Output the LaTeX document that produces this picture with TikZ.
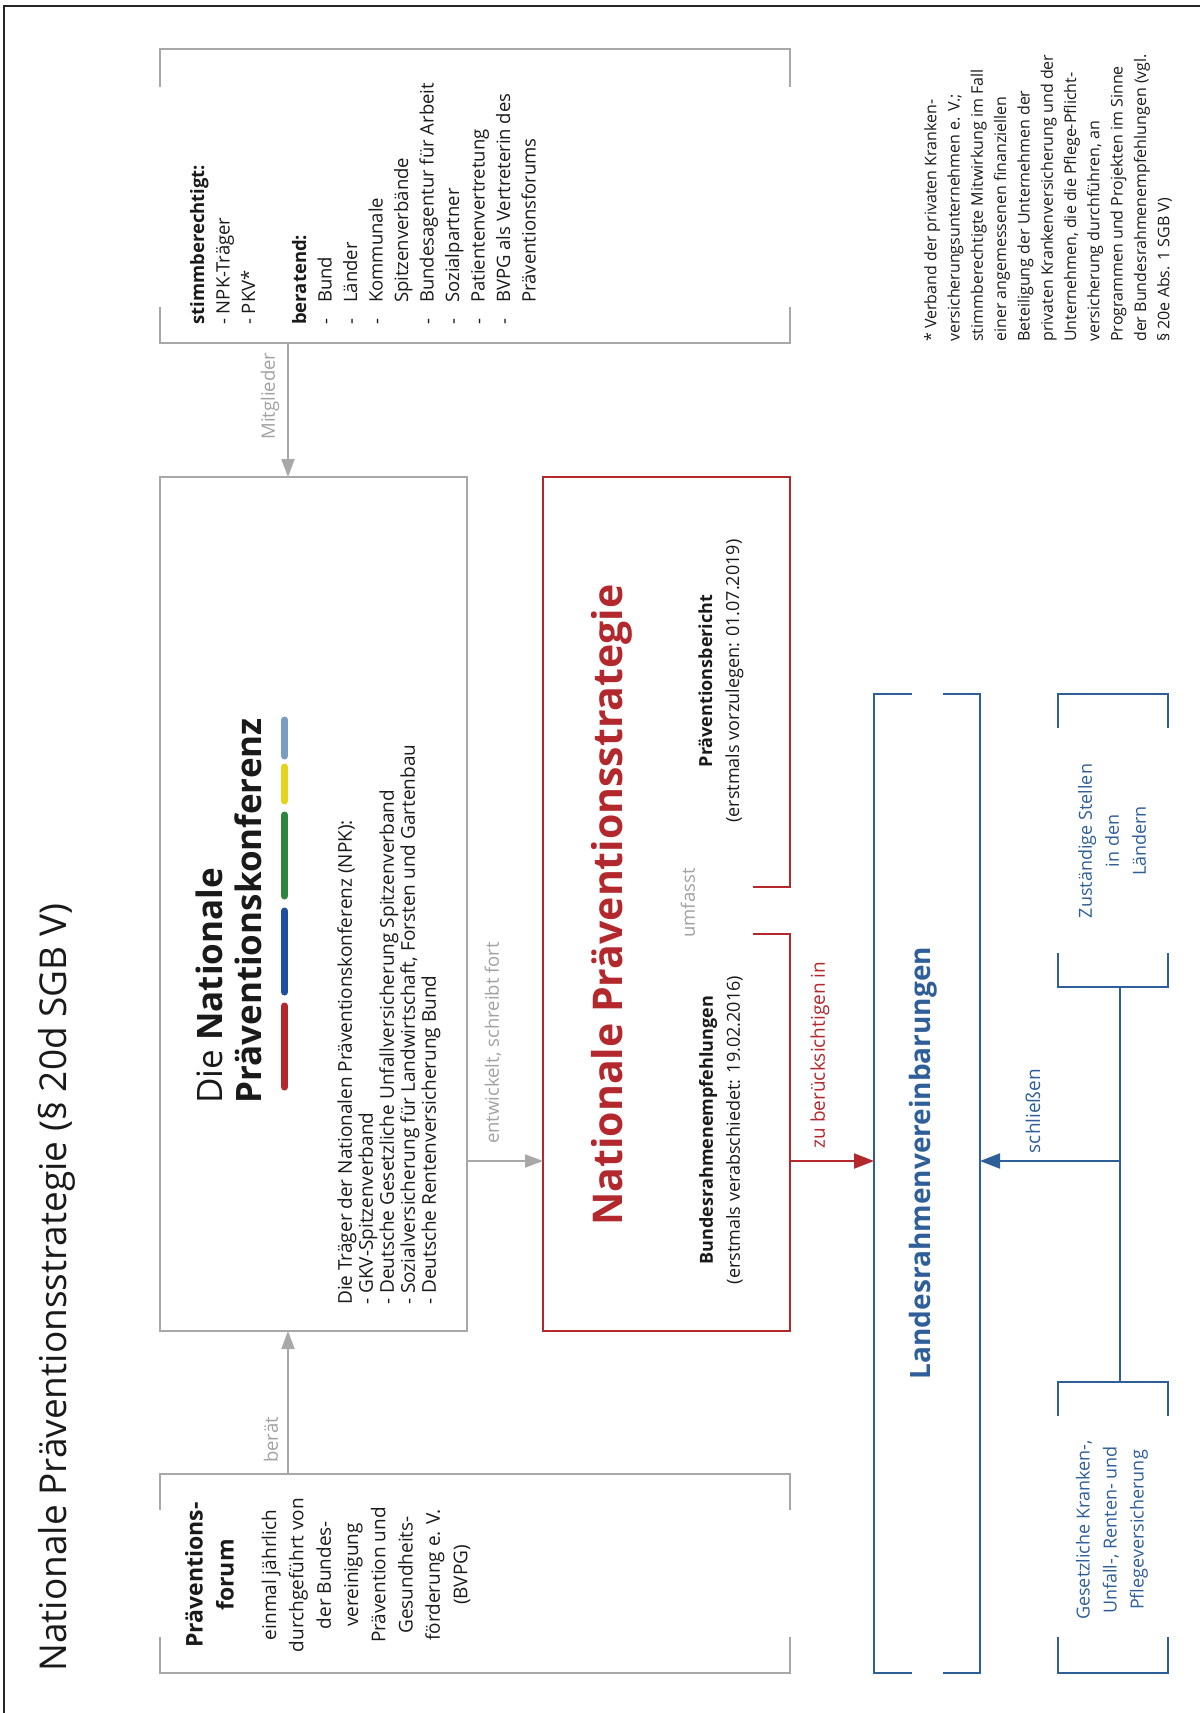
\documentclass[tikz,border=0pt]{standalone}
\usepackage{fontspec}
\setmainfont{Open Sans}
\usetikzlibrary{arrows.meta}
\definecolor{grayline}{HTML}{A8A8A8}
\definecolor{graytext}{HTML}{A2A2A2}
\definecolor{npsred}{HTML}{B3282D}
\definecolor{lrblue}{HTML}{2F5F98}
\definecolor{txt}{HTML}{1A1A1A}
\definecolor{barred}{HTML}{B3282D}
\definecolor{barblue}{HTML}{1E4FA0}
\definecolor{bargreen}{HTML}{2E8540}
\definecolor{baryellow}{HTML}{E6D31E}
\definecolor{barlight}{HTML}{7B9DC2}
\newcommand\fs[2]{\fontsize{#1}{#2}\selectfont}
\begin{document}
\begin{tikzpicture}[x=1pt,y=-1pt,
  rtext/.style={rotate=90, inner sep=0pt, text=txt},
  frame/.style={inner sep=0pt, outer sep=0pt, anchor=north west},
  graybox/.style={draw=grayline, line width=2pt},
  redbox/.style={draw=npsred, line width=2pt},
  bluebox/.style={draw=lrblue, line width=2.2pt},
  garrow/.style={draw=grayline, line width=2pt, -{Triangle[width=13pt,length=18pt]}, fill=grayline},
  rarrow/.style={draw=npsred, line width=2pt, -{Triangle[width=15pt,length=20pt]}},
  barrow/.style={draw=lrblue, line width=2pt, -{Triangle[width=15pt,length=20pt]}},
  glabel/.style={rtext, text=graytext, font=\fs{18.5}{22}},
  bar/.style={line width=7pt, line cap=round}
]
\useasboundingbox (0,0) rectangle (1200,1713);
\fill[white] (0,0) rectangle (1200,1713);
% outer frame (left and top)
\draw[line width=1.5pt, black!85] (4,1713) -- (4,6) -- (1200,6);

% title
\node[rtext, anchor=west, font=\fs{37}{44}] (title) at (57,1672) {Nationale Präventionsstrategie (§ 20d SGB V)};

% box frames (invisible nodes)
\node[frame, minimum width=630pt, minimum height=294pt] (top) at (160,49) {};
\node[frame, minimum width=307pt, minimum height=854pt] (npk) at (160,477) {};
\node[frame, minimum width=630pt, minimum height=199pt] (pf) at (160,1474) {};
\node[frame, minimum width=247pt, minimum height=854pt] (nps) at (543,477) {};
\node[frame, minimum width=106pt, minimum height=979pt] (lrv) at (874,694) {};
\node[frame, minimum width=110pt, minimum height=293pt] (zst) at (1058,694) {};
\node[frame, minimum width=110pt, minimum height=291pt] (gkv) at (1058,1382) {};

% top box brackets
\draw[graybox] ([yshift=-38pt]top.north west) -- (top.north west) -- (top.north east) -- ([yshift=-38pt]top.north east);
\draw[graybox] ([yshift=36pt]top.south west) -- (top.south west) -- (top.south east) -- ([yshift=36pt]top.south east);
% NPK box
\draw[graybox] (npk.north west) rectangle (npk.south east);
% Praeventionsforum brackets
\draw[graybox] ([yshift=-36pt]pf.north west) -- (pf.north west) -- (pf.north east) -- ([yshift=-36pt]pf.north east);
\draw[graybox] ([yshift=36pt]pf.south west) -- (pf.south west) -- (pf.south east) -- ([yshift=36pt]pf.south east);
% NPS red box with gap on the right
\draw[redbox] ([yshift=-410pt,xshift=-37pt]nps.north east) -- ([yshift=-410pt]nps.north east) -- (nps.north east) -- (nps.north west) -- (nps.south west) -- (nps.south east) -- ([yshift=397pt]nps.south east) -- ([yshift=397pt,xshift=-37pt]nps.south east);
% Landesrahmen bracket
\draw[bluebox] ([xshift=38pt]lrv.north west) -- (lrv.north west) -- (lrv.south west) -- ([xshift=38pt]lrv.south west);
\draw[bluebox] ([xshift=-37pt]lrv.north east) -- (lrv.north east) -- (lrv.south east) -- ([xshift=-37pt]lrv.south east);
% Zustaendige brackets
\draw[bluebox] ([yshift=-34pt]zst.north west) -- (zst.north west) -- (zst.north east) -- ([yshift=-34pt]zst.north east);
\draw[bluebox] ([yshift=34pt]zst.south west) -- (zst.south west) -- (zst.south east) -- ([yshift=34pt]zst.south east);
% Gesetzliche brackets
\draw[bluebox] ([yshift=-34pt]gkv.north west) -- (gkv.north west) -- (gkv.north east) -- ([yshift=-34pt]gkv.north east);
\draw[bluebox] ([yshift=36pt]gkv.south west) -- (gkv.south west) -- (gkv.south east) -- ([yshift=36pt]gkv.south east);

% connectors
\coordinate (ax) at (288,0);
\coordinate (ay) at (0,1161);
\coordinate (bx) at (1120,0);
\draw[garrow] (top.south -| ax) -- (npk.north -| ax);
\draw[garrow] (pf.north -| ax) -- (npk.south -| ax);
\draw[garrow] (npk.east |- ay) -- (nps.west |- ay);
\draw[rarrow] (nps.east |- ay) -- (lrv.west |- ay);
\draw[bluebox] (zst.south -| bx) -- (gkv.north -| bx);
\draw[barrow] (bx |- ay) -- (lrv.east |- ay);

% connector labels
\node[glabel] (lmit) at (270,396) {Mitglieder};
\node[glabel] (lber) at (271,1440) {berät};
\node[glabel] (lent) at (493,1043) {entwickelt, schreibt fort};
\node[glabel] (lumf) at (688,903) {umfasst};
\node[rtext, text=npsred, font=\fs{19}{22}] (lzub) at (820,1055) {zu berücksichtigen in};
\node[rtext, text=lrblue, font=\fs{19}{22}] (lsch) at (1033,1111) {schließen};

% top box text
\node[rtext, anchor=west, align=left, font=\fs{18.5}{25.5}] (toptext) at (363,325) {\textbf{stimmberechtigt:}\\
- NPK-Träger\\
- PKV*\\[25.5pt]
\textbf{beratend:}\\
\makebox[22pt][l]{-}Bund\\
\makebox[22pt][l]{-}Länder\\
\makebox[22pt][l]{-}Kommunale\\
\makebox[22pt][l]{}Spitzenverbände\\
\makebox[22pt][l]{-}Bundesagentur für Arbeit\\
\makebox[22pt][l]{-}Sozialpartner\\
\makebox[22pt][l]{-}Patientenvertretung\\
\makebox[22pt][l]{-}BVPG als Vertreterin des\\
\makebox[22pt][l]{}Präventionsforums};

% footnote
\node[rtext, anchor=west, align=left, font=\fs{16}{23.3}] (foot) at (1048,342) {* Verband der privaten Kranken-\\
versicherungsunternehmen e. V.;\\
stimmberechtigte Mitwirkung im Fall\\
einer angemessenen finanziellen\\
Beteiligung der Unternehmen der\\
privaten Krankenversicherung und der\\
Unternehmen, die die Pflege-Pflicht-\\
versicherung durchführen, an\\
Programmen und Projekten im Sinne\\
der Bundesrahmenempfehlungen (vgl.\\
§ 20e Abs. 1 SGB V)};

% NPK content
\node[rtext, anchor=west, align=left, font=\fs{35}{39}] (npktitle) at (228.5,1104) {Die \textbf{Nationale}\\\textbf{Präventionskonferenz}};
\draw[bar, barred] (284.5,1006) -- (284.5,1087);
\draw[bar, barblue] (284.5,911) -- (284.5,992);
\draw[bar, bargreen] (284.5,815) -- (284.5,896);
\draw[bar, baryellow] (284.5,767) -- (284.5,801);
\draw[bar, barlight] (284.5,720) -- (284.5,756);
\node[rtext, anchor=west, align=left, font=\fs{19}{21}] (npkbody) at (389,1305) {Die Träger der Nationalen Präventionskonferenz (NPK):\\
- GKV-Spitzenverband\\
- Deutsche Gesetzliche Unfallversicherung Spitzenverband\\
- Sozialversicherung für Landwirtschaft, Forsten und Gartenbau\\
- Deutsche Rentenversicherung Bund};

% NPS content
\node[rtext, text=npsred, font=\bfseries\fs{41}{46}] (npstitle) at (612,905) {Nationale Präventionsstrategie};
\node[rtext, align=center, font=\fs{18}{27}] (bre) at (721,1130) {\textbf{Bundesrahmenempfehlungen}\\(erstmals verabschiedet: 19.02.2016)};
\node[rtext, align=center, font=\fs{18}{27}] (pb) at (721,681) {\textbf{Präventionsbericht}\\(erstmals vorzulegen: 01.07.2019)};

% Landesrahmen
\node[rtext, text=lrblue, font=\bfseries\fs{28}{32}] (lrvtext) at (923,1163) {Landesrahmenvereinbarungen};
\node[rtext, text=lrblue, align=center, font=\fs{18}{27}] (zsttext) at (1112,841) {Zuständige Stellen\\in den\\Ländern};
\node[rtext, text=lrblue, align=center, font=\fs{18}{27}] (gkvtext) at (1112,1530) {Gesetzliche Kranken-,\\Unfall-, Renten- und\\Pflegeversicherung};

% Praeventionsforum
\node[rtext, align=center, font=\bfseries\fs{23}{31}] (pfhead) at (209.5,1575) {Präventions-\\forum};
\node[rtext, align=center, font=\fs{19}{27.3}] (pfbody) at (366,1575) {einmal jährlich\\durchgeführt von\\der Bundes-\\vereinigung\\Prävention und\\Gesundheits-\\förderung e. V.\\(BVPG)};
\end{tikzpicture}
\end{document}
